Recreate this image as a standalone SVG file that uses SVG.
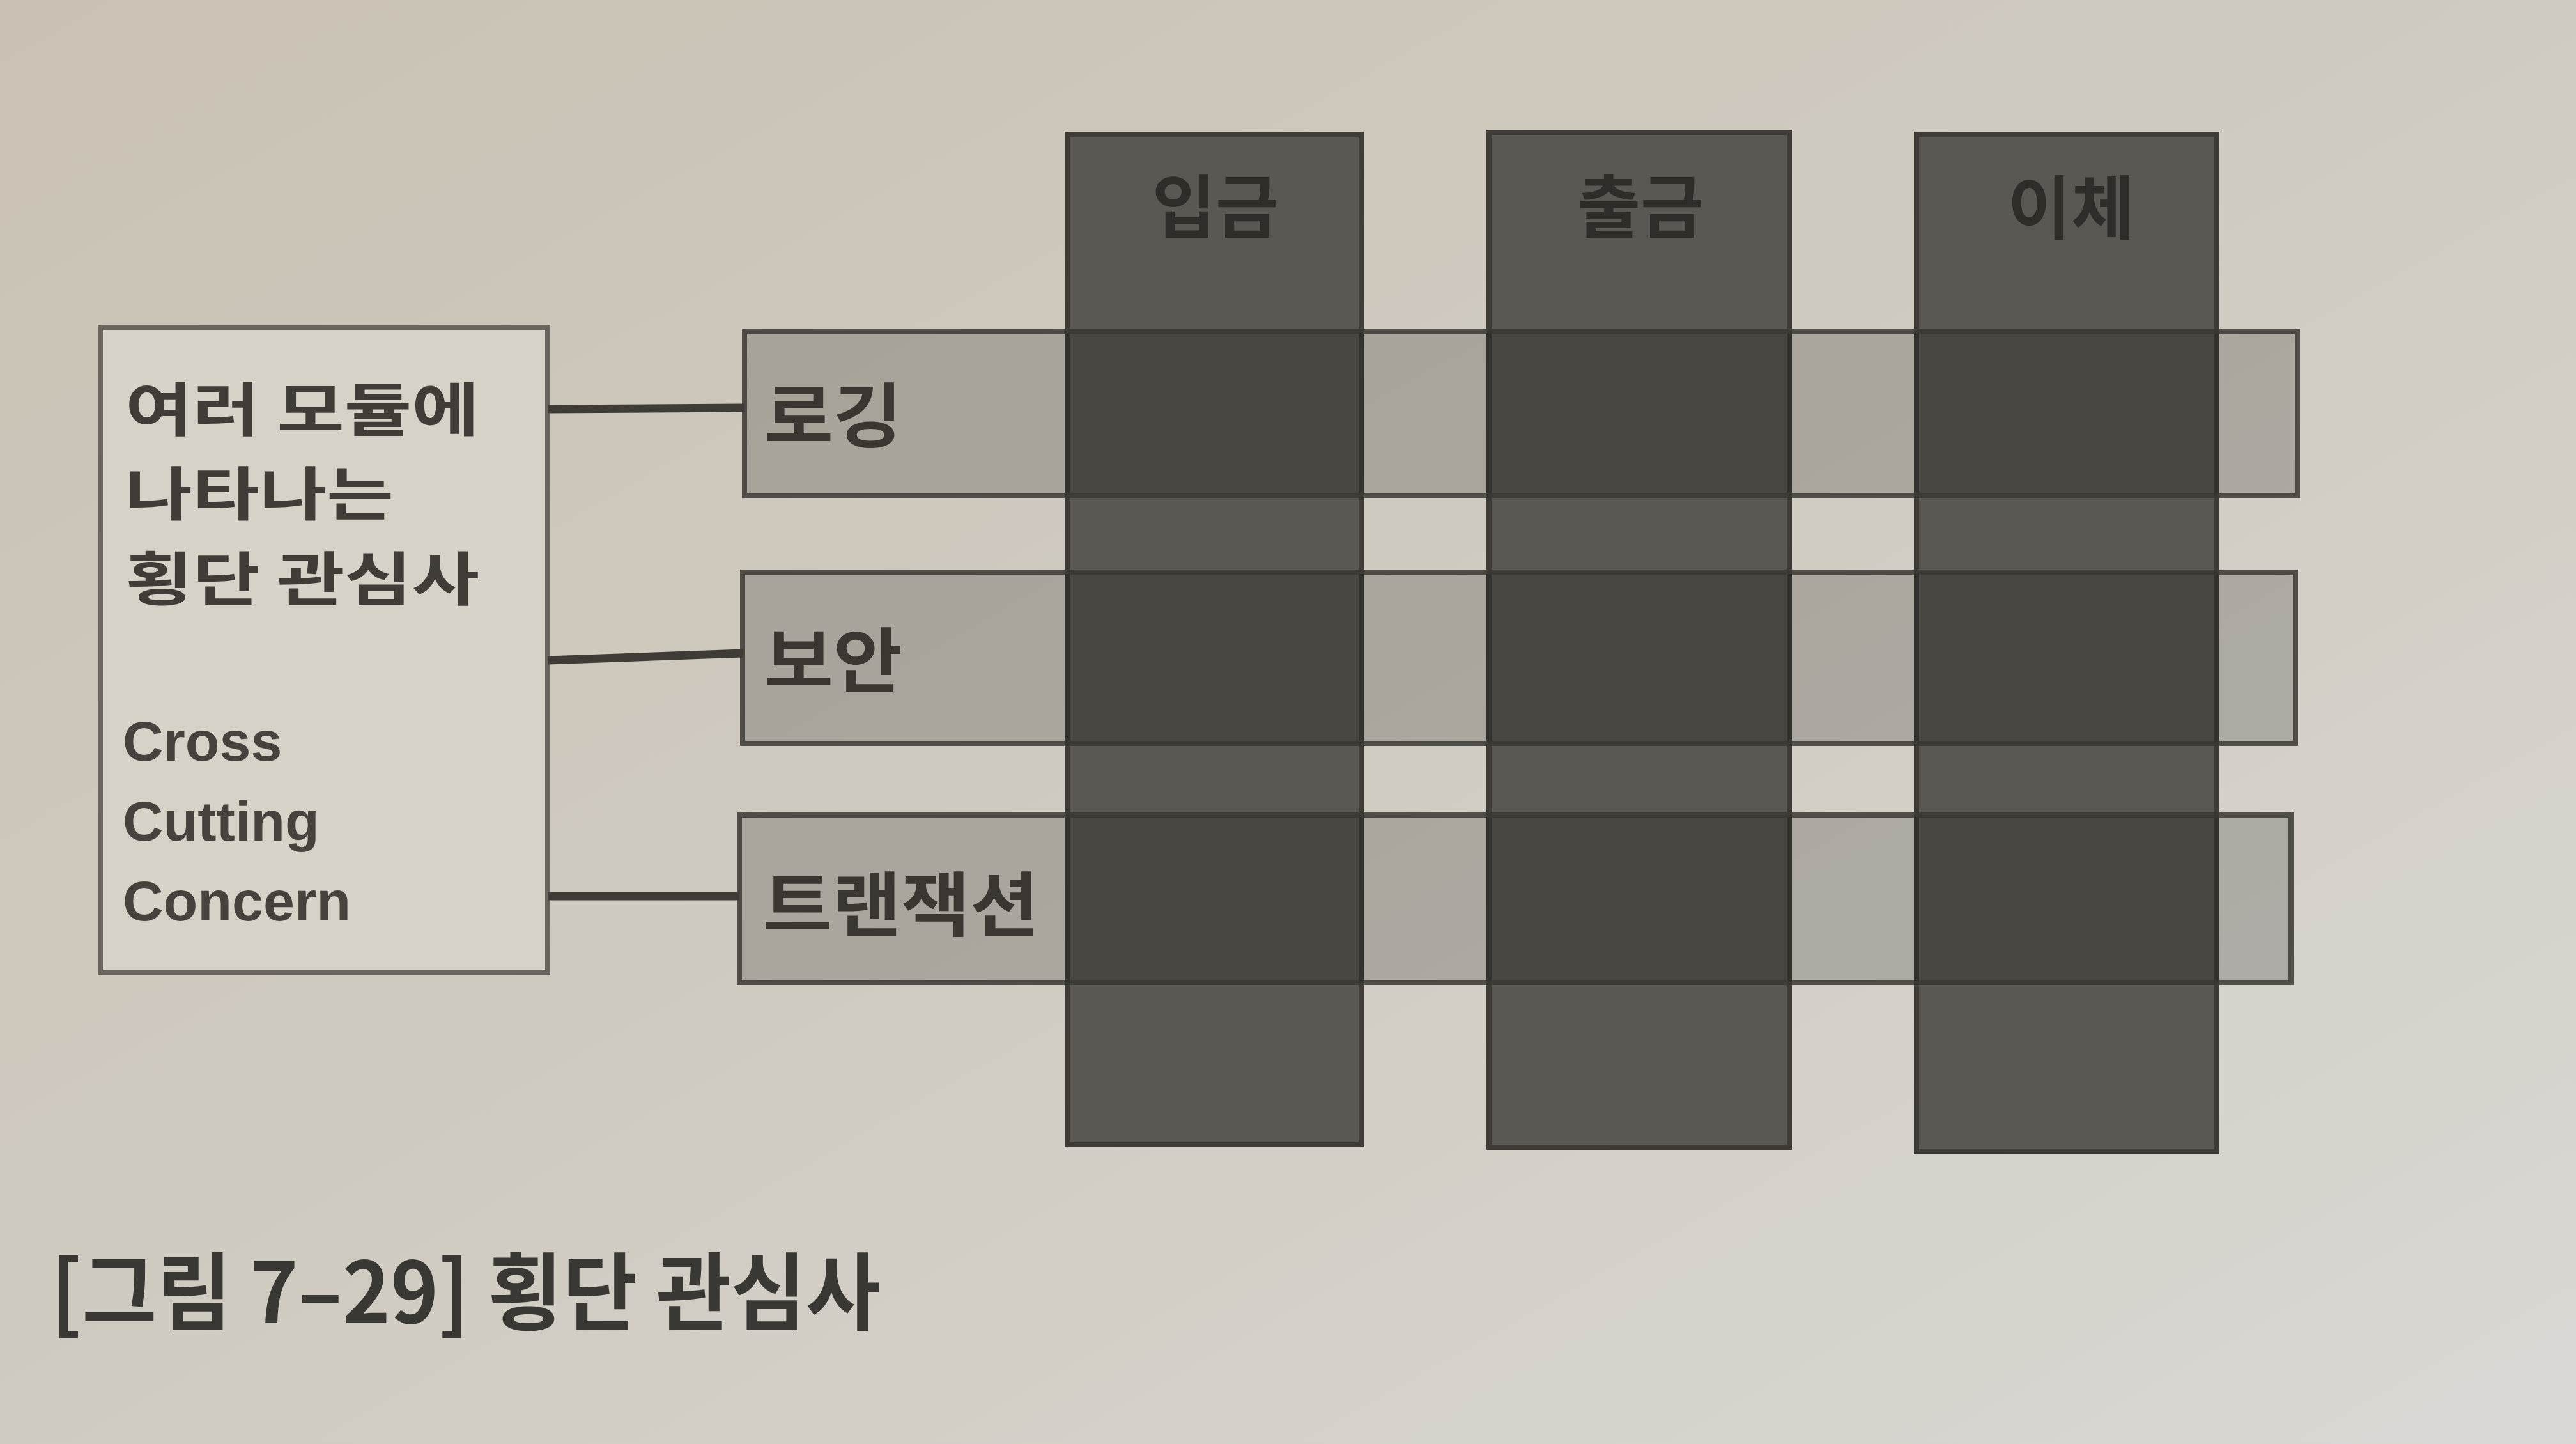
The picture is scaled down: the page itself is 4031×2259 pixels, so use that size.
<svg xmlns="http://www.w3.org/2000/svg" width="4031" height="2259" viewBox="0 0 4031 2259">
  <defs>
    <linearGradient id="paper" x1="0" y1="0" x2="1" y2="1">
      <stop offset="0" stop-color="#c9c2b4"/>
      <stop offset="0.5" stop-color="#d0cbc1"/>
      <stop offset="1" stop-color="#dad8d4"/>
    </linearGradient>
    <style>
      .col { fill: #5b5752; stroke: #3f3c38; stroke-width: 8; }
      .bar { fill: #000000; fill-opacity: 0.18; stroke: #3b3834; stroke-opacity: 0.85; stroke-width: 8; }
      .box { fill: #d7d2c8; stroke: #6a665f; stroke-width: 8; }
      .conn { stroke: #3f3c38; stroke-width: 13; fill: none; }
      .ko { font-family: "Noto Sans CJK KR", "Noto Sans", sans-serif; font-weight: bold; fill: #3a3733; dominant-baseline: central; }
      .en { font-family: "Liberation Sans", Arial, sans-serif; font-weight: bold; fill: #46433f; font-size: 88px; }
      .collabel { font-size: 108px; text-anchor: middle; fill: #2f2c29; }
      .barlabel { font-size: 110px; fill: #3a3733; }
      .boxlabel { font-size: 91px; fill: #403d39; }
      .caption { font-size: 132px; fill: #3a3835; font-weight: bold; }
    </style>
  </defs>

  <rect x="0" y="0" width="4031" height="2259" fill="url(#paper)"/>

  <g id="node-col-deposit">
    <rect class="col" x="1670" y="210" width="460" height="1581"/>
    <text class="ko collabel" x="1902" y="316">입금</text>
  </g>
  <g id="node-col-withdraw">
    <rect class="col" x="2330" y="207" width="470" height="1588"/>
    <text class="ko collabel" x="2567" y="316">출금</text>
  </g>
  <g id="node-col-transfer">
    <rect class="col" x="2999" y="210" width="470" height="1592"/>
    <text class="ko collabel" x="3241" y="318">이체</text>
  </g>

  <g id="node-bar-logging">
    <rect class="bar" x="1165" y="518" width="2430" height="257"/>
    <text class="ko barlabel" x="1196" y="643" textLength="216" lengthAdjust="spacingAndGlyphs">로깅</text>
  </g>
  <g id="node-bar-security">
    <rect class="bar" x="1162" y="895" width="2430" height="268"/>
    <text class="ko barlabel" x="1196" y="1026" textLength="216" lengthAdjust="spacingAndGlyphs">보안</text>
  </g>
  <g id="node-bar-transaction">
    <rect class="bar" x="1157" y="1275" width="2428" height="262"/>
    <text class="ko barlabel" x="1194" y="1408" textLength="432" lengthAdjust="spacingAndGlyphs">트랜잭션</text>
  </g>

  <g id="node-concern-box">
    <rect class="box" x="157" y="512" width="700" height="1010"/>
    <text class="ko boxlabel" x="196" y="634" textLength="554" lengthAdjust="spacingAndGlyphs">여러 모듈에</text>
    <text class="ko boxlabel" x="196" y="766" textLength="420" lengthAdjust="spacingAndGlyphs">나타나는</text>
    <text class="ko boxlabel" x="196" y="899" textLength="554" lengthAdjust="spacingAndGlyphs">횡단 관심사</text>
    <text class="en" x="192" y="1190">Cross</text>
    <text class="en" x="192" y="1315">Cutting</text>
    <text class="en" x="192" y="1440">Concern</text>
  </g>

  <g id="connectors">
    <line class="conn" x1="857" y1="640" x2="1165" y2="638"/>
    <line class="conn" x1="857" y1="1033" x2="1162" y2="1022"/>
    <line class="conn" x1="857" y1="1402" x2="1157" y2="1402"/>
  </g>

  <g id="caption">
    <text class="ko caption" x="80" y="2012" textLength="1298" lengthAdjust="spacingAndGlyphs">[그림 7–29] 횡단 관심사</text>
  </g>
</svg>
